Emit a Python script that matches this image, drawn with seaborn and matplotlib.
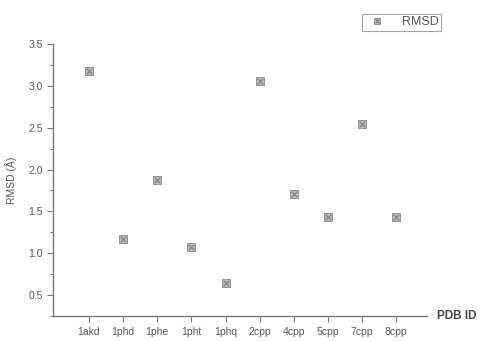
import matplotlib
matplotlib.use("Agg")
import matplotlib.pyplot as plt
import seaborn as sns
import pandas as pd
from matplotlib.ticker import MultipleLocator
from matplotlib.lines import Line2D

sns.set_style("ticks")
plt.rcParams['font.family'] = ['Liberation Sans', 'DejaVu Sans']

pdb_ids = ["1akd", "1phd", "1phe", "1pht", "1phq", "2cpp", "4cpp", "5cpp", "7cpp", "8cpp"]
rmsd = [3.18, 1.17, 1.87, 1.08, 0.65, 3.06, 1.71, 1.43, 2.55, 1.43]

df = pd.DataFrame({"pos": range(1, len(pdb_ids) + 1), "PDB": pdb_ids, "RMSD": rmsd})

fig = plt.figure(figsize=(4.82, 3.41), dpi=100)
ax = fig.add_axes([0.110, 0.0733, 0.776, 0.7977])

col = "#8f8f8f"
sns.scatterplot(data=df, x="pos", y="RMSD", ax=ax, marker="s", s=34,
                color="#bcbcbc", edgecolor=col, linewidth=0.7, legend=False, zorder=3)
sns.scatterplot(data=df, x="pos", y="RMSD", ax=ax, marker="x", s=16,
                color="#777777", linewidth=0.7, legend=False, zorder=4)

ax.set_xlim(-0.05, 10.9)
ax.set_ylim(0.25, 3.5)
ax.set_xticks(df["pos"])
ax.set_xticklabels(pdb_ids)
ax.yaxis.set_minor_locator(MultipleLocator(0.25))
ax.set_yticks([0.5, 1.0, 1.5, 2.0, 2.5, 3.0, 3.5])
ax.set_yticklabels(["0.5", "1.0", "1.5", "2.0", "2.5", "3.0", "3.5"])

for s in ["top", "right"]:
    ax.spines[s].set_visible(False)
for s in ["left", "bottom"]:
    ax.spines[s].set_color("#777777")
    ax.spines[s].set_linewidth(1.0)

ax.tick_params(axis="both", which="major", direction="out", length=4, width=0.8,
               colors="#777777", labelcolor="#555555", labelsize=7.5)
ax.tick_params(axis="y", which="minor", direction="out", length=2.5, width=0.8, colors="#777777")
ax.tick_params(axis="x", pad=4)

ax.set_xlabel("")
ax.set_ylabel("RMSD (Å)", fontsize=7.5, color="#555555", labelpad=8)
fig.text(0.906, 0.0733, "PDB ID", fontsize=8.5, fontweight="bold", color="#444444",
         ha="left", va="center")

h = (Line2D([], [], marker="s", linestyle="none", markersize=4, markerfacecolor="#bcbcbc",
            markeredgecolor=col, markeredgewidth=0.7),
     Line2D([], [], marker="x", linestyle="none", markersize=3, color="#777777",
            markeredgewidth=0.7))
leg = fig.legend([h], ["RMSD"], loc="upper left", bbox_to_anchor=(0.751, 0.959),
                 fontsize=9, frameon=True, fancybox=False, borderpad=0.2,
                 borderaxespad=0.0, handlelength=2.0, handletextpad=1.0)
leg.get_frame().set_edgecolor("#888888")
leg.get_frame().set_linewidth(0.8)
for t in leg.get_texts():
    t.set_color("#555555")

fig.savefig("out.png", dpi=100)
